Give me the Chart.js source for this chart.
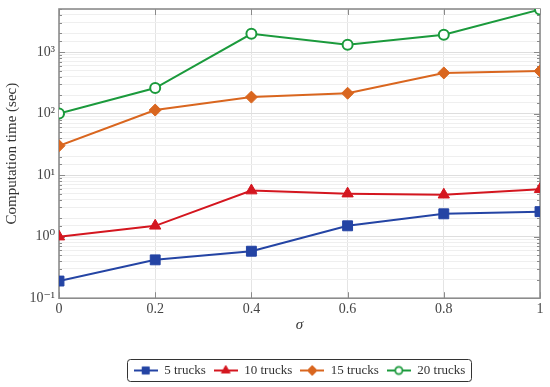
<!DOCTYPE html>
<html><head><meta charset="utf-8">
<script src="https://cdn.jsdelivr.net/npm/chart.js@4/dist/chart.umd.min.js"></script>
<style>html,body{margin:0;padding:0;background:#fff}#wrap{width:550px;height:387px;position:relative}</style>
</head><body><div id="wrap"><canvas id="c" width="550" height="387"></canvas></div>
<script>
// ---- data ----
const sigma = [0, 0.2, 0.4, 0.6, 0.8, 1];
const trucks5 = [0.19, 0.42, 0.58, 1.5, 2.35, 2.55];
const trucks10 = [1.0, 1.5, 5.6, 5.0, 4.8, 5.9];
const trucks15 = [30, 114, 185, 214, 457, 490];
const trucks20 = [100, 260, 1980, 1310, 1910, 4900];
const seriesNames = ['5 trucks', '10 trucks', '15 trucks', '20 trucks'];
const xTickValues = [0, 0.2, 0.4, 0.6, 0.8, 1];
const yMin = 0.1, yMax = 5000;

const FONT = "'Liberation Serif', 'DejaVu Serif', serif";
const colors = ['#2444a4', '#d4161f', '#d9661f', '#1b9a3c'];
const styles = ['rect', 'triangle', 'rectRot', 'circle'];
const radii = [7, 6.5, 6, 5];

function isPow10(v) {
  const l = Math.log10(v);
  return Math.abs(l - Math.round(l)) < 1e-9;
}
const sup = {'-':'\u207B','0':'\u2070','1':'\u00B9','2':'\u00B2','3':'\u00B3','4':'\u2074','5':'\u2075','6':'\u2076','7':'\u2077','8':'\u2078','9':'\u2079'};
function powLabel(v) {
  const e = String(Math.round(Math.log10(v)));
  return '10' + e.split('').map(c => sup[c]).join('');
}

function legendIcon(i) {
  const cv = document.createElement('canvas');
  cv.width = 24; cv.height = 14;
  const c = cv.getContext('2d');
  c.strokeStyle = colors[i]; c.lineWidth = 2;
  c.beginPath(); c.moveTo(0, 7); c.lineTo(24, 7); c.stroke();
  c.fillStyle = i === 3 ? '#ffffff' : colors[i];
  c.strokeStyle = colors[i];
  c.lineWidth = i === 3 ? 1.8 : 1;
  Chart.helpers.drawPoint(c, {pointStyle: styles[i], radius: [5, 5, 5, 3.6][i], borderWidth: c.lineWidth, rotation: 0}, 12, 7);
  return cv;
}

const seriesData = [trucks5, trucks10, trucks15, trucks20];
const datasets = seriesData.map((vals, i) => ({
  label: seriesNames[i],
  data: vals.map((v, k) => ({x: sigma[k], y: v})),
  borderColor: colors[i],
  backgroundColor: colors[i],
  pointBackgroundColor: i === 3 ? '#ffffff' : colors[i],
  pointBorderColor: colors[i],
  pointBorderWidth: i === 3 ? 2 : 1,
  pointStyle: styles[i],
  pointRadius: radii[i],
  borderWidth: 2,
  tension: 0
}));

const framePlugin = {
  id: 'frame',
  beforeDatasetsDraw(chart) {
    const {ctx, chartArea: a, scales} = chart;
    ctx.save();
    ctx.strokeStyle = '#8a8a8a';
    ctx.lineWidth = 1;
    scales.y.ticks.forEach(t => {
      const y = Math.round(scales.y.getPixelForValue(t.value)) + 0.5;
      const len = isPow10(t.value) ? 6 : 3;
      ctx.beginPath();
      ctx.moveTo(a.left, y); ctx.lineTo(a.left + len, y);
      ctx.moveTo(a.right, y); ctx.lineTo(a.right - len, y);
      ctx.stroke();
    });
    scales.x.ticks.forEach(t => {
      const x = Math.round(scales.x.getPixelForValue(t.value)) + 0.5;
      ctx.beginPath();
      ctx.moveTo(x, a.top); ctx.lineTo(x, a.top + 6);
      ctx.moveTo(x, a.bottom); ctx.lineTo(x, a.bottom - 6);
      ctx.stroke();
    });
    ctx.lineWidth = 1.6;
    ctx.strokeStyle = '#8c8c8c';
    ctx.strokeRect(a.left, a.top, a.right - a.left, a.bottom - a.top);
    ctx.restore();
  },
  afterDraw(chart) {
    const lg = chart.legend;
    if (!lg || !lg.legendHitBoxes || !lg.legendHitBoxes.length) return;
    const hb = lg.legendHitBoxes;
    let l = Infinity, r = -Infinity, t = Infinity, b = -Infinity;
    hb.forEach(h => { l = Math.min(l, h.left); r = Math.max(r, h.left + h.width); t = Math.min(t, h.top); b = Math.max(b, h.top + h.height); });
    const ctx = chart.ctx;
    ctx.save();
    ctx.strokeStyle = '#333333';
    ctx.lineWidth = 1;
    ctx.beginPath();
    ctx.roundRect(Math.round(l) - 6.5, Math.round(t) - 4.5, Math.round(r - l) + 12, Math.round(b - t) + 9, 3);
    ctx.stroke();
    ctx.restore();
  }
};

new Chart(document.getElementById('c'), {
  type: 'line',
  data: {datasets},
  plugins: [framePlugin],
  options: {
    responsive: false,
    animation: false,
    devicePixelRatio: 1,
    layout: {padding: {left: 0, right: 10, top: 9, bottom: 0}},
    plugins: {
      legend: {
        position: 'bottom',
        fullSize: false,
        labels: {
          usePointStyle: true,
          pointStyleWidth: 24,
          padding: 8,
          color: '#333',
          font: {family: FONT, size: 13},
          generateLabels(chart) {
            return chart.data.datasets.map((d, i) => ({
              text: d.label, pointStyle: legendIcon(i), datasetIndex: i,
              fillStyle: colors[i], strokeStyle: colors[i], lineWidth: 0, hidden: false, fontColor: '#333'
            }));
          }
        }
      },
      tooltip: {enabled: false}
    },
    scales: {
      x: {
        type: 'linear',
        min: 0, max: 1,
        afterBuildTicks(scale) { scale.ticks = xTickValues.map(v => ({value: v})); },
        ticks: {
          color: '#444', font: {family: FONT, size: 14}, padding: 3,
          callback: v => String(v)
        },
        grid: {color: '#e4e4e4', lineWidth: 1, drawTicks: false},
        border: {display: false},
        title: {display: true, text: 'σ', color: '#333', font: {family: FONT, size: 15, style: 'italic'}, padding: {top: -5, bottom: 22}}
      },
      y: {
        type: 'logarithmic',
        min: yMin, max: yMax,
        afterFit(scale) { scale.width = 59; scale.paddingTop = 0; },
        ticks: {
          autoSkip: false,
          color: '#444', font: {family: FONT, size: 14}, padding: 4,
          callback: v => isPow10(v) ? powLabel(v) : ''
        },
        grid: {
          color: ctx => (ctx.tick && isPow10(ctx.tick.value)) ? '#dedede' : '#efefef',
          lineWidth: 1, drawTicks: false
        },
        border: {display: false},
        title: {display: true, text: 'Computation time (sec)', color: '#333', font: {family: FONT, size: 15}, padding: {top: 3, bottom: 2}}
      }
    }
  }
});
</script>
</body></html>
